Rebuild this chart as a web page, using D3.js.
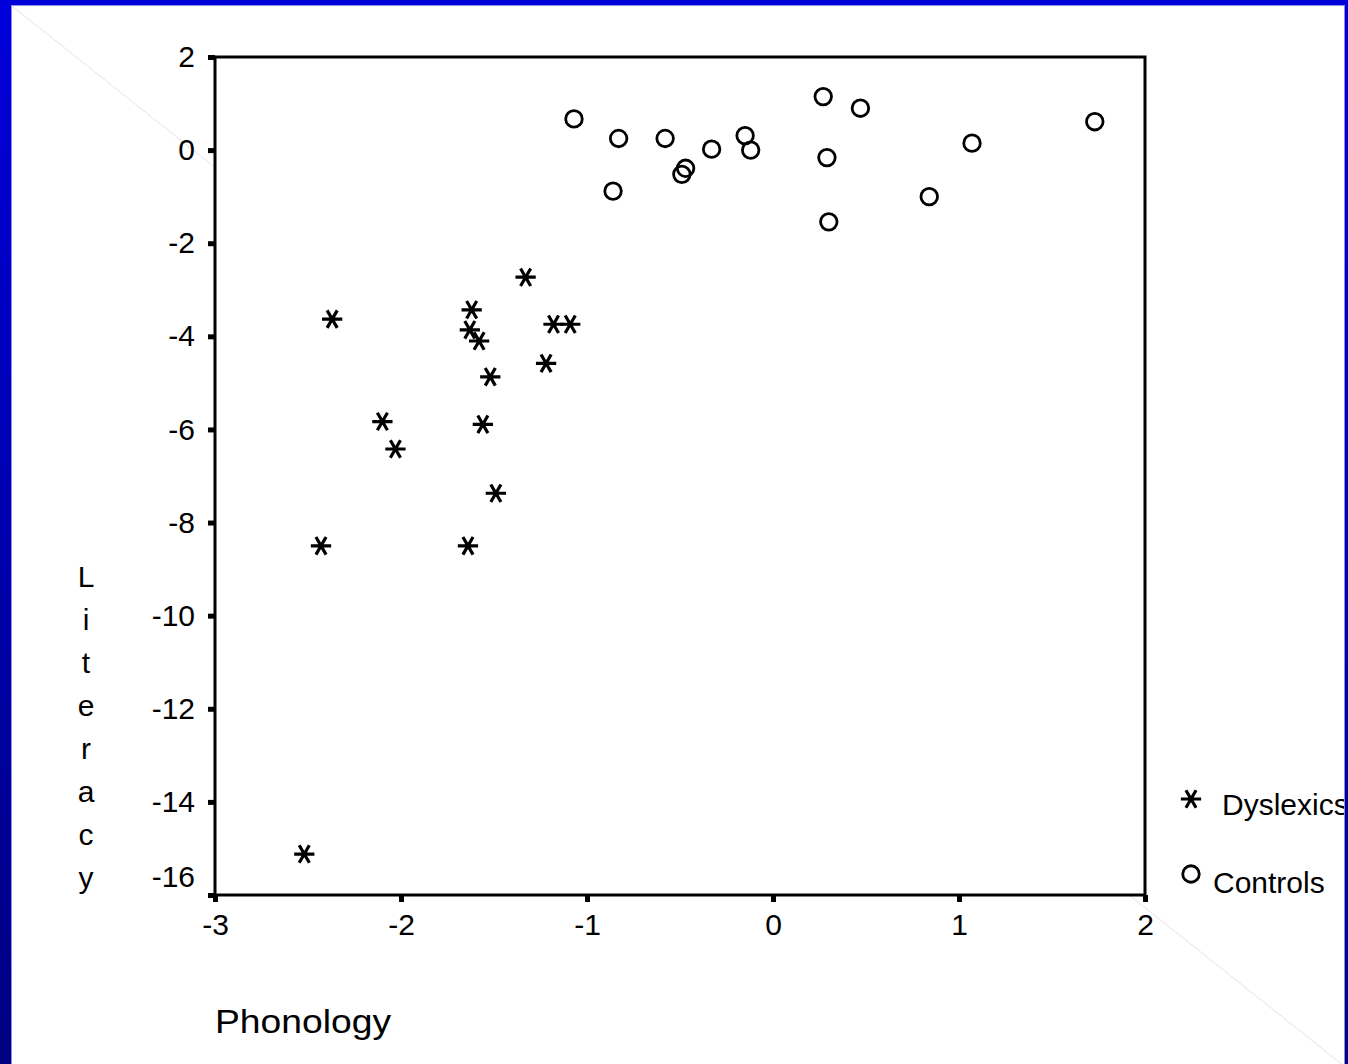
<!DOCTYPE html>
<html>
<head>
<meta charset="utf-8">
<script src="https://cdn.jsdelivr.net/npm/d3@7"></script>
<style>
  body { margin: 0; background: #fff; }
  svg { display: block; }
  text { font-family: "Liberation Sans", Arial, sans-serif; fill: #000; }
</style>
</head>
<body>
<div id="chart"></div>
<script>
// values
const dyslexicsPhon = [-1.33, -2.37, -1.62, -1.63, -1.58, -1.18, -1.09, -1.22, -1.52, -2.10, -1.56, -2.03, -1.49, -2.43, -1.64, -2.52];
const dyslexicsLit  = [-2.73, -3.63, -3.43, -3.86, -4.10, -3.74, -3.74, -4.58, -4.87, -5.83, -5.89, -6.42, -7.37, -8.50, -8.50, -15.12];
const controlsPhon  = [-1.07, -0.83, -0.58, -0.33, -0.15, -0.12, -0.47, -0.49, -0.86, 0.27, 0.47, 0.29, 0.30, 0.84, 1.07, 1.73];
const controlsLit   = [0.67, 0.25, 0.25, 0.02, 0.31, 0.00, -0.39, -0.52, -0.88, 1.15, 0.90, -0.16, -1.54, -1.00, 0.15, 0.61];
const xTicks = [-3, -2, -1, 0, 1, 2];
const yTicks = [2, 0, -2, -4, -6, -8, -10, -12, -14, -16];
const groups = ["Dyslexics", "Controls"];

const width = 1348, height = 1064;
const margin = { top: 57, right: 203, bottom: 169, left: 215 };

const svg = d3.select("#chart").append("svg")
  .attr("width", width)
  .attr("height", height);

// slide background
const defs = svg.append("defs");
const grad = defs.append("linearGradient").attr("id", "band")
  .attr("x1", 0).attr("y1", 0).attr("x2", 0).attr("y2", 1);
grad.append("stop").attr("offset", "0%").attr("stop-color", "#0000dc");
grad.append("stop").attr("offset", "100%").attr("stop-color", "#000080");

svg.append("rect").attr("width", width).attr("height", height).attr("fill", "#fff");
svg.append("line")
  .attr("x1", 12).attr("y1", 6).attr("x2", 1344).attr("y2", 1066)
  .attr("stroke", "#e2e2f0").attr("stroke-width", 1);

const x = d3.scaleLinear().domain([-3, 2]).range([margin.left, width - margin.right]);
const y = d3.scaleLinear().domain([-16, 2]).range([height - margin.bottom, margin.top]);

// plot frame
svg.append("rect")
  .attr("x", x(-3)).attr("y", y(2))
  .attr("width", x(2) - x(-3)).attr("height", y(-16) - y(2))
  .attr("fill", "#fff").attr("stroke", "#000").attr("stroke-width", 3);

function styleAxis(g) {
  g.select(".domain").remove();
  g.selectAll(".tick line").attr("stroke", "#000").attr("stroke-width", 5);
  g.selectAll(".tick text")
    .attr("fill", "#000")
    .attr("font-size", 30)
    .attr("font-family", "Liberation Sans, Arial, sans-serif");
}

svg.append("g")
  .attr("transform", `translate(${x(-3)},0)`)
  .call(d3.axisLeft(y).tickValues(yTicks).tickSize(7).tickPadding(13).tickFormat(d => String(d)))
  .call(styleAxis)
  .call(g => g.selectAll(".tick text").filter(d => d === -16).attr("y", -18));

svg.append("g")
  .attr("transform", `translate(0,${y(-16)})`)
  .call(d3.axisBottom(x).tickValues(xTicks).tickSize(7).tickPadding(12).tickFormat(d => String(d)))
  .call(styleAxis);

// markers
const star = d3.symbol().type(d3.symbolAsterisk).size(290);
const ring = d3.symbol().type(d3.symbolCircle).size(215);

const dys = d3.range(dyslexicsPhon.length).map(i => [dyslexicsPhon[i], dyslexicsLit[i]]);
const ctl = d3.range(controlsPhon.length).map(i => [controlsPhon[i], controlsLit[i]]);

svg.append("g").selectAll("path").data(dys).join("path")
  .attr("d", star)
  .attr("transform", d => `translate(${x(d[0])},${y(d[1])}) rotate(90)`)
  .attr("fill", "none").attr("stroke", "#000").attr("stroke-width", 3.2);

svg.append("g").selectAll("path").data(ctl).join("path")
  .attr("d", ring)
  .attr("transform", d => `translate(${x(d[0])},${y(d[1])})`)
  .attr("fill", "none").attr("stroke", "#000").attr("stroke-width", 2.8);

// axis titles
svg.append("text")
  .attr("x", 215).attr("y", 1033)
  .attr("font-size", 34)
  .attr("textLength", 176).attr("lengthAdjust", "spacingAndGlyphs")
  .text("Phonology");

const yTitle = svg.append("text")
  .attr("text-anchor", "middle")
  .attr("font-size", 30);
"Literacy".split("").forEach((ch, i) => {
  yTitle.append("tspan").attr("x", 86).attr("y", 587 + 43 * i).text(ch);
});

// legend
const legend = svg.append("g");
legend.append("path").attr("d", star)
  .attr("transform", "translate(1191,799) rotate(90)")
  .attr("fill", "none").attr("stroke", "#000").attr("stroke-width", 3.2);
legend.append("text").attr("x", 1222).attr("y", 815).attr("font-size", 30).text(groups[0]);
legend.append("path").attr("d", ring)
  .attr("transform", "translate(1191,874)")
  .attr("fill", "none").attr("stroke", "#000").attr("stroke-width", 2.8);
legend.append("text").attr("x", 1213).attr("y", 893).attr("font-size", 30).text(groups[1]);

// blue frame of the slide
svg.append("rect").attr("x", 0).attr("y", 0).attr("width", 11).attr("height", height).attr("fill", "url(#band)");
svg.append("rect").attr("x", 1345).attr("y", 0).attr("width", 3).attr("height", height).attr("fill", "url(#band)");
svg.append("rect").attr("x", 0).attr("y", 0).attr("width", width).attr("height", 5).attr("fill", "#0000d8");
svg.append("line").attr("x1", 11.5).attr("y1", 5).attr("x2", 11.5).attr("y2", height)
  .attr("stroke", "#8c8cf0").attr("stroke-width", 1);
svg.append("line").attr("x1", 11).attr("y1", 5.5).attr("x2", 1345).attr("y2", 5.5)
  .attr("stroke", "#8c8cf0").attr("stroke-width", 1);
svg.append("line").attr("x1", 1344.5).attr("y1", 5).attr("x2", 1344.5).attr("y2", height)
  .attr("stroke", "#8c8cf0").attr("stroke-width", 1);
</script>
</body>
</html>
